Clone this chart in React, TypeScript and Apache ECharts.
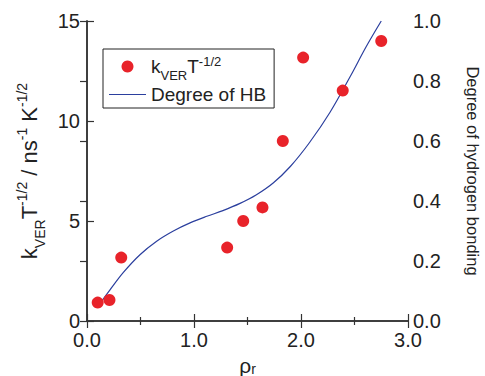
import React, { useEffect, useRef } from "react";
import * as echarts from "echarts";

const rho = [0.1, 0.21, 0.32, 1.31, 1.46, 1.64, 1.83, 2.02, 2.39, 2.75];
const kver = [0.92, 1.05, 3.17, 3.67, 5.0, 5.68, 9.0, 13.17, 11.52, 14.0];
const hbRho = [0.096, 0.215, 0.34, 0.495, 0.651, 0.807, 0.963, 1.12, 1.27, 1.43, 1.58, 1.74, 1.9, 2.08, 2.27, 2.46, 2.61, 2.75];
const hbDeg = [0.046, 0.104, 0.162, 0.221, 0.266, 0.3, 0.327, 0.349, 0.368, 0.392, 0.42, 0.46, 0.515, 0.595, 0.695, 0.815, 0.915, 1.0];
const leftTicks = [0, 5, 10, 15];
const rightTicks = [0, 0.2, 0.4, 0.6, 0.8, 1.0];

const FONT = "Liberation Sans, Arial, Helvetica, sans-serif";
const AX = "#333";
const TXT = "#222";

export default function App() {
  const ref = useRef<HTMLDivElement>(null);
  useEffect(() => {
    if (!ref.current) return;
    const chart = echarts.init(ref.current, null, { renderer: "svg" });
    const axisLine = { show: true, lineStyle: { color: AX, width: 1.5 } };
    chart.setOption({
      animation: false,
      textStyle: { fontFamily: FONT },
      grid: { left: 87, right: 77, top: 21, bottom: 55, outerBoundsMode: "none", containLabel: false },
      legend: {
        orient: "vertical",
        left: 103,
        top: 49,
        padding: [6, 8, 4, 6],
        itemGap: 3,
        itemWidth: 37,
        itemHeight: 12,
        itemTextGap: 8,
        borderColor: "#222",
        borderWidth: 1,
        data: [
          { name: "kver", icon: "circle" },
          { name: "Degree of HB", icon: "path://M0,0 L37,0 L37,1 L0,1 Z" },
        ],
        formatter: (n: string) =>
          n === "kver" ? "{m|k}{sub|VER}{m|T}{sup|-1/2}" : "{m|Degree of HB}",
        textStyle: {
          color: TXT,
          fontFamily: FONT,
          fontSize: 19,
          rich: {
            m: { fontSize: 19, color: TXT, fontFamily: FONT, height: 23, verticalAlign: "middle" },
            sub: { fontSize: 13, color: TXT, fontFamily: FONT, verticalAlign: "bottom", padding: [0, 0, -4, 0] },
            sup: { fontSize: 13, color: TXT, fontFamily: FONT, verticalAlign: "top" },
          },
        },
      },
      xAxis: [
        {
          type: "value",
          min: 0,
          max: 3,
          interval: 1,
          position: "bottom",
          axisLine,
          axisTick: { show: true, inside: true, length: 7, lineStyle: { color: AX, width: 1.2 } },
          minorTick: { show: true, splitNumber: 2, length: 4, lineStyle: { color: AX, width: 1.2 } },
          splitLine: { show: false },
          axisLabel: { color: TXT, fontSize: 20, margin: 9, formatter: (v: number) => v.toFixed(1) },
          name: "{a|ρ}{b|r}",
          nameLocation: "middle",
          nameGap: 27,
          nameTextStyle: {
            rich: {
              a: { fontSize: 21, color: TXT, fontFamily: FONT, lineHeight: 21 },
              b: { fontSize: 14, color: TXT, fontFamily: FONT, lineHeight: 12, verticalAlign: "bottom" },
            },
          },
        },
        {
          type: "value",
          min: 0,
          max: 3,
          interval: 1,
          position: "top",
          axisLine,
          axisTick: { show: true, inside: true, length: 7, lineStyle: { color: AX, width: 1.2 } },
          minorTick: { show: true, splitNumber: 2, length: 4, lineStyle: { color: AX, width: 1.2 } },
          splitLine: { show: false },
          axisLabel: { show: false },
        },
      ],
      yAxis: [
        {
          type: "value",
          min: 0,
          max: 15,
          interval: 5,
          position: "left",
          axisLine,
          axisTick: { show: true, inside: true, length: 7, lineStyle: { color: AX, width: 1.2 } },
          splitLine: { show: false },
          axisLabel: {
            color: TXT,
            fontSize: 20,
            margin: 7,
            formatter: (v: number) => (leftTicks.includes(v) ? String(v) : ""),
          },
          name: "{m|k}{sub|VER}{m|T}{sup|-1/2}{m| / ns}{sup|-1}{m| K}{sup|-1/2}",
          nameLocation: "middle",
          nameRotate: 90,
          nameGap: 40,
          nameTextStyle: {
            rich: {
              m: { fontSize: 22, color: TXT, fontFamily: FONT, height: 30, verticalAlign: "middle" },
              sub: { fontSize: 14, color: TXT, fontFamily: FONT, verticalAlign: "bottom", padding: [0, 0, -2, 0] },
              sup: { fontSize: 14, color: TXT, fontFamily: FONT, verticalAlign: "top" },
            },
          },
        },
        {
          type: "value",
          min: 0,
          max: 1,
          interval: 0.2,
          position: "right",
          axisLine,
          axisTick: { show: true, inside: true, length: 7, lineStyle: { color: AX, width: 1.2 } },
          splitLine: { show: false },
          axisLabel: {
            color: TXT,
            fontSize: 20,
            margin: 5,
            formatter: (v: number) =>
              rightTicks.some((t) => Math.abs(t - v) < 1e-9) ? v.toFixed(1) : "",
          },
          name: "Degree of hydrogen bonding",
          nameLocation: "middle",
          nameRotate: -90,
          nameGap: 56,
          nameTextStyle: { color: TXT, fontSize: 16.5, fontFamily: FONT },
        },
      ],
      series: [
        {
          name: "kver",
          type: "scatter",
          xAxisIndex: 0,
          yAxisIndex: 0,
          symbol: "circle",
          symbolSize: 12,
          itemStyle: { color: "#e8232a", opacity: 1 },
          data: rho.map((r, i) => [r, kver[i]]),
          z: 3,
        },
        {
          name: "Degree of HB",
          type: "line",
          xAxisIndex: 0,
          yAxisIndex: 1,
          smooth: 0.35,
          showSymbol: false,
          symbol: "none",
          lineStyle: { color: "#2b3f9e", width: 1.2 },
          itemStyle: { color: "#2b3f9e" },
          data: hbRho.map((r, i) => [r, hbDeg[i]]),
          z: 2,
        },
      ],
    });
    return () => chart.dispose();
  }, []);
  return (
    <div
      ref={ref}
      style={{ position: "fixed", left: 0, top: 0, width: 485, height: 376, background: "#fff" }}
    />
  );
}
